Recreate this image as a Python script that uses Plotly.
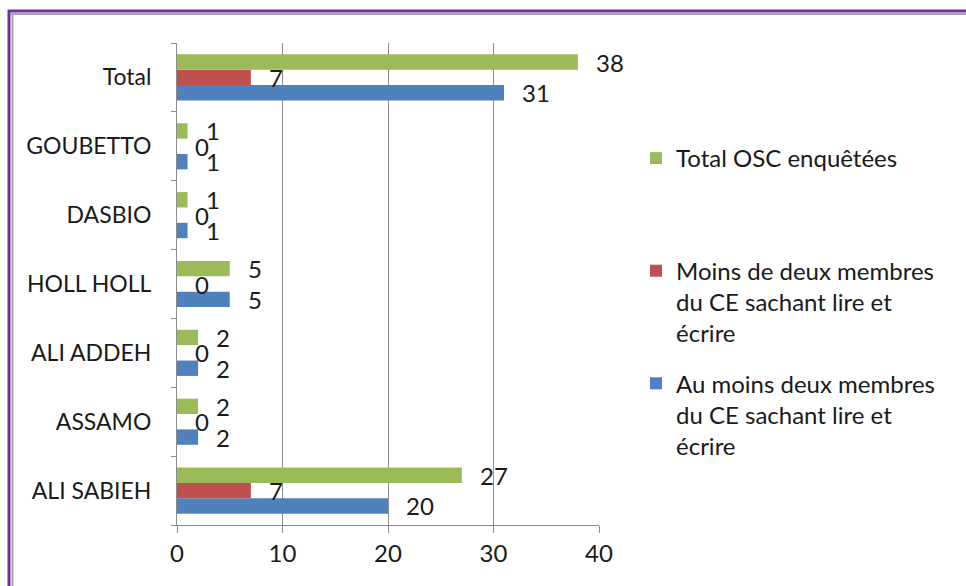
import plotly.graph_objects as go

categories = ["ALI SABIEH", "ASSAMO", "ALI ADDEH", "HOLL HOLL", "DASBIO", "GOUBETTO", "Total"]
au_moins_deux = [20, 2, 2, 5, 1, 1, 31]
moins_de_deux = [7, 0, 0, 0, 0, 0, 7]
total_osc = [27, 2, 2, 5, 1, 1, 38]

series = [
    ("Au moins deux membres<br>du CE sachant lire et<br>écrire", au_moins_deux, "#4F81BD"),
    ("Moins de deux membres<br>du CE sachant lire et<br>écrire", moins_de_deux, "#C0504D"),
    ("Total OSC enquêtées<br> <br> ", total_osc, "#9BBB59"),
]

FONT = "Lato"
FS = 24
W, H = 966, 586
ML, MR, MT, MB = 177, 367, 43, 61
PW, PH = W - ML - MR, H - MT - MB
BARGAP = 0.33

def xp(p):
    return (p - ML) / PW

def yp(p):
    return (H - MB - p) / PH

fig = go.Figure()
for i, (name, vals, col) in enumerate(series):
    fig.add_trace(go.Bar(
        y=categories, x=vals, name=name, orientation="h",
        marker=dict(color=col, line=dict(width=0)),
        legendgroup=str(i), legendrank=3 - i,
    ))

bw = (1 - BARGAP) / 3
annotations = []
for k, (name, vals, col) in enumerate(series):
    for i, v in enumerate(vals):
        annotations.append(dict(
            x=v, y=i + (k - 1) * bw, xref="x", yref="y",
            text=str(v), showarrow=False, xanchor="left", yanchor="middle",
            xshift=16, font=dict(family=FONT, size=FS, color="#1a1a1a"),
        ))

shapes = [
    dict(type="line", xref="paper", yref="paper", x0=xp(8), x1=xp(W + 5), y0=yp(11), y1=yp(11),
         line=dict(color="#7030A0", width=3)),
    dict(type="line", xref="paper", yref="paper", x0=xp(11), x1=xp(W + 5), y0=yp(14), y1=yp(14),
         line=dict(color="#A6A6A6", width=2)),
    dict(type="line", xref="paper", yref="paper", x0=xp(9), x1=xp(9), y0=yp(10), y1=yp(H + 5),
         line=dict(color="#7030A0", width=3)),
    dict(type="line", xref="paper", yref="paper", x0=xp(12.5), x1=xp(12.5), y0=yp(13), y1=yp(H + 5),
         line=dict(color="#A6A6A6", width=2)),
]

fig.update_layout(
    width=W, height=H,
    margin=dict(l=ML, r=MR, t=MT, b=MB, pad=0),
    paper_bgcolor="white", plot_bgcolor="white",
    barmode="group", bargap=BARGAP, bargroupgap=0,
    font=dict(family=FONT, size=FS, color="#1a1a1a"),
    showlegend=True,
    legend=dict(
        x=xp(636), y=yp(136), xanchor="left", yanchor="top",
        traceorder="grouped", tracegroupgap=16, valign="top",
        font=dict(family=FONT, size=FS, color="#1a1a1a"),
        bgcolor="rgba(0,0,0,0)",
    ),
    xaxis=dict(
        range=[0, 40], dtick=10, tick0=0,
        showgrid=True, gridcolor="#8C8C8C", gridwidth=1,
        showline=True, linecolor="#8C8C8C", linewidth=1,
        zeroline=False, ticks="outside", ticklen=7, tickcolor="#8C8C8C",
        tickfont=dict(family=FONT, size=FS, color="#1a1a1a"),
        fixedrange=True,
    ),
    yaxis=dict(
        type="category", range=[-0.5, 6.5],
        tickson="boundaries", ticks="outside", ticklen=5, tickcolor="#8C8C8C",
        showline=True, linecolor="#8C8C8C", linewidth=1,
        showgrid=False, ticklabelstandoff=20,
        tickfont=dict(family=FONT, size=23, color="#1a1a1a"),
        fixedrange=True,
    ),
    annotations=annotations,
    shapes=shapes,
)

fig.write_html(
    "out.html",
    config={"displayModeBar": False},
    post_script="document.body.style.margin='0px';document.body.style.overflow='hidden';",
)
